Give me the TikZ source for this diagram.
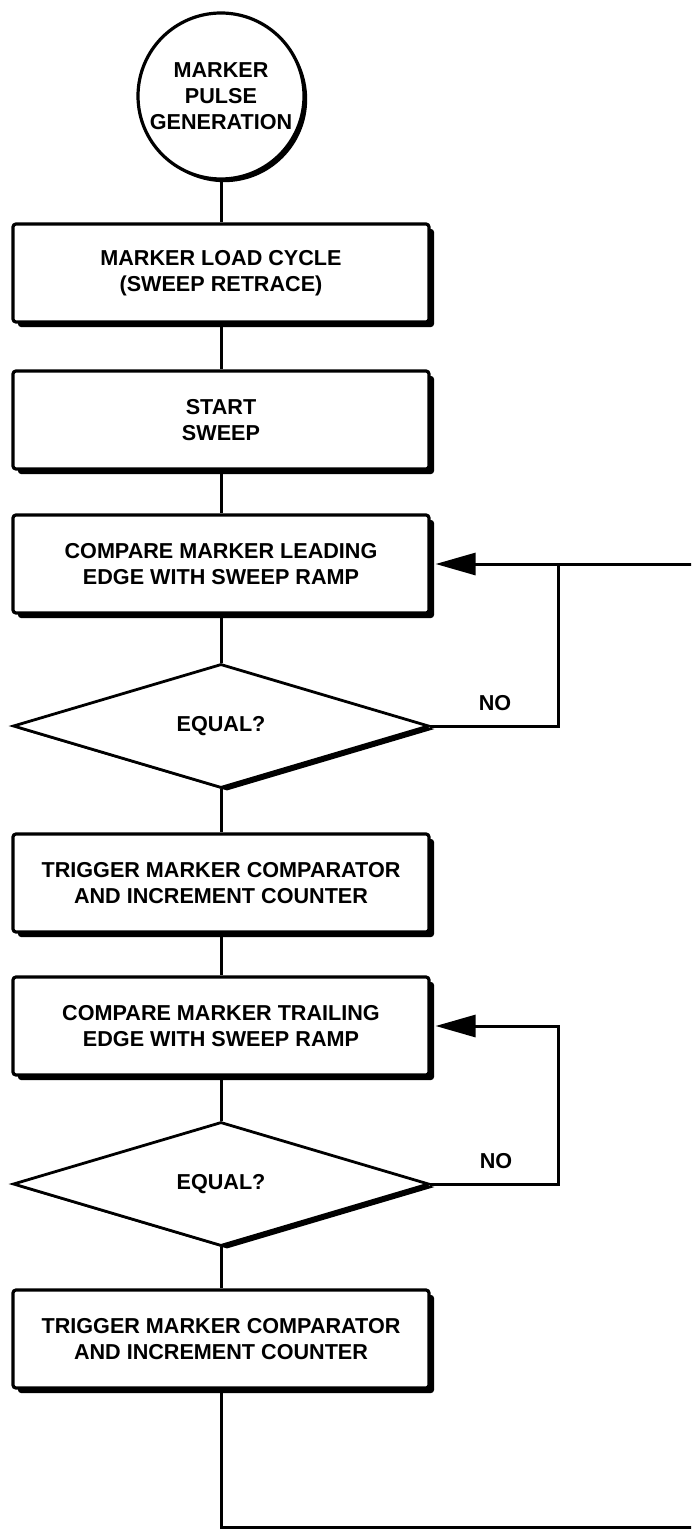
\documentclass[tikz,border=0pt]{standalone}
\usepackage{fontspec}
\setmainfont{Liberation Sans}
\usepackage{tikz}
\usetikzlibrary{positioning,arrows.meta,shapes.geometric,shadows}

\begin{document}
\begin{tikzpicture}[
    x=0.5pt, y=-0.5pt,
    every node/.style={font=\bfseries\fontsize{10.8}{13}\selectfont, align=center},
    procBox/.style={draw, line width=1.6pt, fill=white, rounded corners=1.5pt,
        minimum width=208pt, minimum height=49pt, inner sep=0pt,
        drop shadow={shadow xshift=2.5pt, shadow yshift=-2.5pt, fill=black, opacity=1}},
    startCircle/.style={circle, draw, line width=1.6pt, fill=white,
        minimum size=83pt, inner sep=0pt,
        drop shadow={shadow xshift=1.6pt, shadow yshift=-1.6pt, fill=black, opacity=1}},
    testDiamond/.style={diamond, draw, line width=1.4pt, fill=white,
        minimum width=208pt, minimum height=62pt, inner sep=0pt,
        drop shadow={shadow xshift=3pt, shadow yshift=-1.5pt, fill=black, opacity=1}},
    flowLine/.style={line width=1.5pt},
    backArrow/.style={flowLine, -{Triangle[length=20pt, width=11pt]}}
]
    % Frame of the page
    \useasboundingbox (0,0) rectangle (691,1530);
    \clip (0,0) rectangle (691,1530);

    % Start
    \node[startCircle] (gen) at (221,96) {MARKER\\PULSE\\GENERATION};

    % Main column
    \node[procBox] (b1) at (221,273) {MARKER LOAD CYCLE\\(SWEEP RETRACE)};
    \node[procBox] (b2) at (221,420) {START\\SWEEP};
    \node[procBox] (b3) at (221,564) {COMPARE MARKER LEADING\\EDGE WITH SWEEP RAMP};
    \node[testDiamond] (d1) at (221,726) {EQUAL?};
    \node[procBox] (b4) at (221,883) {TRIGGER MARKER COMPARATOR\\AND INCREMENT COUNTER};
    \node[procBox] (b5) at (221,1026) {COMPARE MARKER TRAILING\\EDGE WITH SWEEP RAMP};
    \node[testDiamond] (d2) at (221,1184) {EQUAL?};
    \node[procBox] (b6) at (221,1339) {TRIGGER MARKER COMPARATOR\\AND INCREMENT COUNTER};

    % Straight connectors
    \draw[flowLine] (gen.south) -- (b1.north);
    \draw[flowLine] (b1.south) -- (b2.north);
    \draw[flowLine] (b2.south) -- (b3.north);
    \draw[flowLine] (b3.south) -- (d1.north);
    \draw[flowLine] (d1.south) -- (b4.north);
    \draw[flowLine] (b4.south) -- (b5.north);
    \draw[flowLine] (b5.south) -- (d2.north);
    \draw[flowLine] (d2.south) -- (b6.north);

    % 1. Loop back to the leading edge test
    \coordinate (j1) at ([xshift=64pt]b3.east);
    \draw[backArrow] (d1.east) -| (j1) -- ([xshift=2.5pt]b3.east);
    \node (no1) at (495,703) {NO};

    % 2. Loop back to the trailing edge test
    \coordinate (j2) at ([xshift=64pt]b5.east);
    \draw[backArrow] (d2.east) -| (j2) -- ([xshift=2.5pt]b5.east);
    \node (no2) at (496,1161) {NO};

    % 3. Return from the last counter
    \coordinate (farR) at (704,1527);
    \draw[flowLine] (b6.south) |- (farR) |- (j1);
\end{tikzpicture}
\end{document}
